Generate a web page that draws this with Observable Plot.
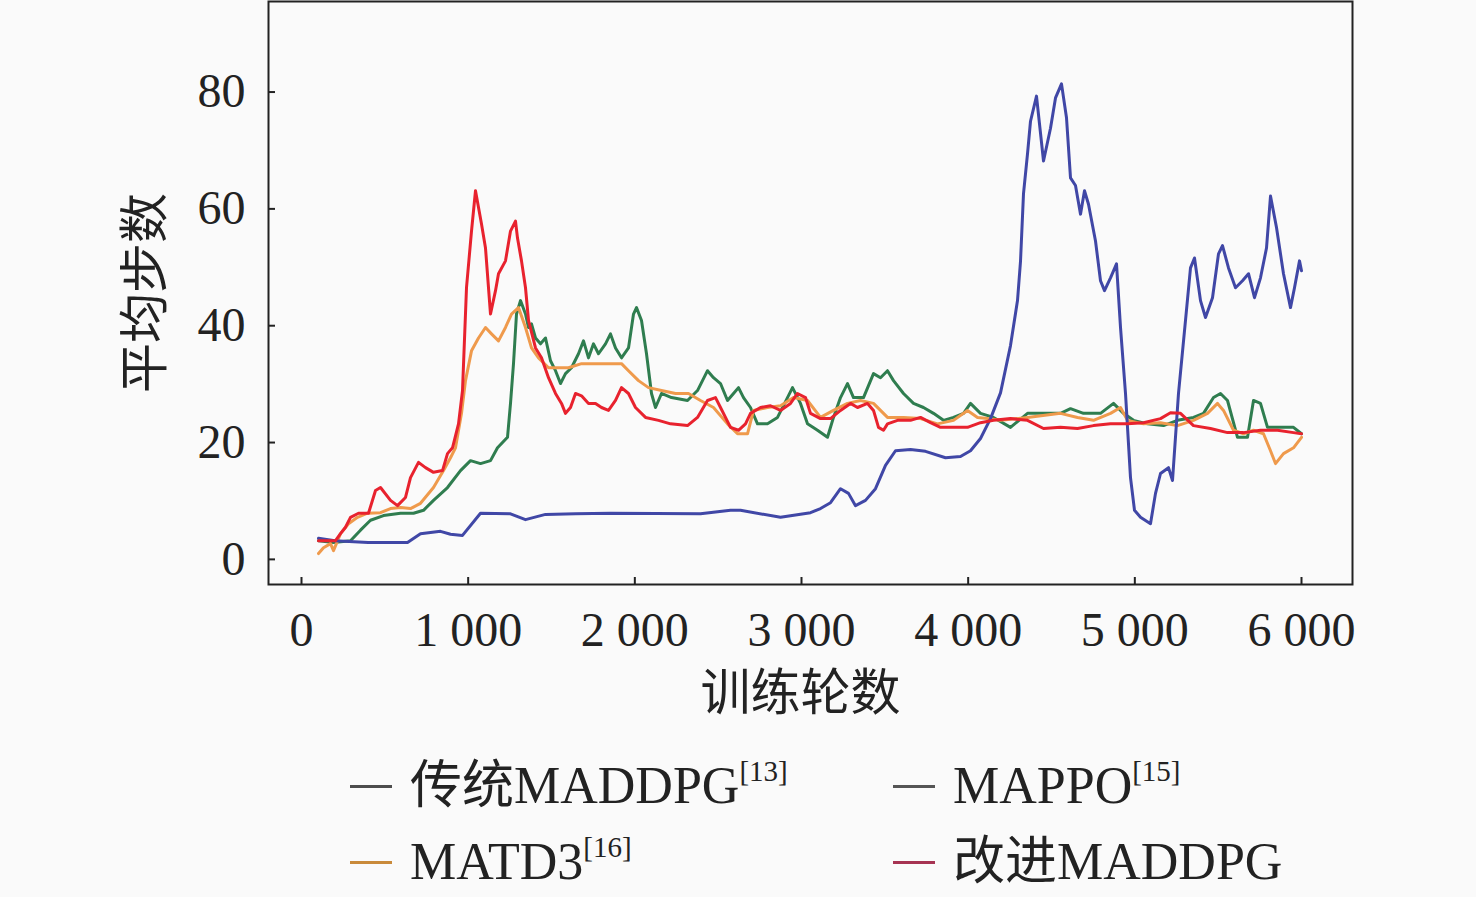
<!DOCTYPE html>
<html><head><meta charset="utf-8">
<script src="https://cdn.jsdelivr.net/npm/d3@7"></script>
<script src="https://cdn.jsdelivr.net/npm/@observablehq/plot@0.6"></script>
<style>
body{margin:0;background:#fafafa;font-family:"Liberation Serif","Noto Sans CJK SC",serif;}
#wrap{position:relative;width:1476px;height:897px;overflow:hidden;}
.item{position:absolute;display:flex;align-items:center;font-size:52px;line-height:60px;color:#222;white-space:nowrap;}
.sw{width:42px;height:3px;margin-right:18px;}
.item sup{font-size:29px;line-height:0;position:relative;top:-4px;vertical-align:super;}
</style>
</head><body>
<div id="wrap"><div id="chart"></div></div>
<script>
// ---- data ----
const xTicks = [0, 1000, 2000, 3000, 4000, 5000, 6000];
const xTickLabels = ["0", "1 000", "2 000", "3 000", "4 000", "5 000", "6 000"];
const yTicks = [0, 20, 40, 60, 80];
const xLabel = "训练轮数";
const yLabel = "平均步数";
const seriesNames = ["传统MADDPG", "MAPPO", "MATD3", "改进MADDPG"];
const seriesRefs = ["[13]", "[15]", "[16]", ""];

const mappoX = [102,200,400,636,714,834,894,966,1074,1254,1344,1464,1644,1854,2394,2574,2634,2874,3054,3114,3174,3234,3282,3324,3384,3444,3504,3564,3654,3744,3864,3954,4014,4074,4134,4194,4254,4296,4314,4332,4356,4374,4410,4452,4494,4524,4560,4590,4614,4644,4674,4698,4722,4764,4794,4818,4854,4890,4914,4944,4974,4998,5034,5094,5124,5154,5202,5226,5262,5304,5334,5358,5394,5424,5466,5502,5526,5562,5604,5646,5682,5718,5754,5790,5814,5850,5892,5934,5958,5988,6000];
const mappoY = [3.6,3.2,2.9,2.9,4.4,4.8,4.3,4.1,7.9,7.8,6.8,7.7,7.8,7.9,7.8,8.4,8.4,7.2,8.0,8.7,9.7,12.1,11.3,9.2,10.1,12.1,16.1,18.6,18.8,18.5,17.4,17.6,18.6,20.7,24.1,28.5,36.6,44.3,51,62.6,69.4,75,79.3,68.2,73.8,79,81.4,75.6,65.3,64,59.1,63.1,60.8,54.5,47.7,46,48.2,50.6,39.7,28.4,14,8.4,7.2,6.1,11.3,14.7,15.7,13.5,28.4,40.9,49.9,51.6,44.3,41.4,44.8,52.3,53.7,49.9,46.5,47.7,48.9,44.8,48.2,53.3,62.2,56.8,48.9,43.1,46.5,51.1,49.4];

const improvedX = [102,204,234,264,294,342,402,444,474,534,576,624,654,702,744,792,846,876,906,942,966,990,1020,1044,1080,1104,1134,1164,1182,1224,1254,1284,1296,1320,1344,1362,1404,1440,1482,1524,1560,1584,1614,1644,1680,1722,1764,1800,1842,1884,1920,1962,2004,2064,2142,2214,2316,2376,2436,2484,2514,2574,2622,2664,2694,2754,2814,2874,2934,2976,3024,3054,3114,3174,3234,3294,3336,3396,3432,3462,3492,3516,3576,3654,3714,3774,3834,3912,3996,4074,4152,4254,4356,4452,4554,4656,4752,4854,4956,5052,5154,5214,5274,5352,5454,5556,5652,5754,5856,5952,6000];
const improvedY = [3.2,3.2,4.4,5.5,7.2,7.9,7.9,11.8,12.3,10.1,9.2,10.6,14,16.6,15.7,14.9,15.2,18.1,19.1,23.2,28.9,46.5,56.2,63.1,57.4,53.3,42,46,48.9,51.1,56.2,57.9,55,51.1,46.5,40.9,36.2,34.5,31.1,28.4,26.7,25,26,28.4,28,26.7,26.7,26,25.5,27.2,29.4,28.4,26,24.3,23.8,23.2,22.9,24.3,27.2,27.7,26,22.6,22.1,23.2,25,26,26.3,25.5,26.7,28.4,27.7,25,24.1,24.1,25.5,26.7,26,26.7,25.5,22.6,22.1,23.2,23.8,23.8,24.3,23.4,22.6,22.6,22.6,23.4,23.8,24.1,23.8,22.4,22.6,22.4,22.9,23.2,23.2,23.4,24.1,25.1,25,22.9,22.4,21.7,21.7,22.1,22.1,21.7,21.5];

const maddpgX = [102,192,294,354,414,492,594,672,732,792,876,954,1014,1074,1134,1176,1236,1254,1272,1290,1314,1344,1362,1380,1404,1434,1464,1494,1524,1554,1584,1620,1662,1692,1722,1752,1782,1824,1854,1884,1920,1962,1992,2010,2040,2070,2100,2124,2160,2220,2316,2376,2436,2472,2514,2556,2592,2622,2652,2694,2736,2796,2856,2916,2946,2994,3036,3096,3156,3192,3234,3276,3312,3372,3432,3474,3516,3552,3612,3672,3732,3792,3852,3912,3972,4014,4074,4152,4254,4356,4452,4554,4614,4692,4794,4872,4932,4992,5076,5172,5256,5352,5412,5472,5514,5556,5616,5676,5712,5754,5796,5874,5952,6000];
const maddpgY = [3.2,2.9,3.2,5,6.7,7.5,7.9,7.9,8.4,10.1,12.3,15.2,16.9,16.4,16.9,19.1,20.9,26.7,33.5,42,44.3,42,39.7,40.3,37.9,36.9,37.9,34,32.3,30.1,31.8,32.8,35.2,37.4,34.5,36.9,35.2,36.9,38.6,36.2,34.5,36.2,42,43.1,40.9,35.2,28.4,26,28.4,27.7,27.2,28.9,32.3,31.1,30.1,27.2,28.4,29.4,27.7,26,23.2,23.2,24.3,27.7,29.4,26.7,23.2,22.1,20.9,24.3,27.7,30.1,27.7,27.7,31.8,31.1,32.3,30.6,28.4,26.7,26,25,23.8,24.3,25,26.7,25,24.3,22.6,25,25,25,25.8,25,25,26.7,25,23.8,23.2,22.9,23.8,24.3,25,27.7,28.4,27.2,20.9,20.9,27.2,26.7,22.6,22.6,22.6,21.5];

const matd3X = [102,132,174,192,234,282,336,396,474,534,594,654,714,792,852,894,924,960,984,1020,1062,1104,1140,1182,1224,1260,1302,1344,1380,1422,1482,1542,1602,1680,1764,1842,1920,1962,2022,2082,2160,2244,2322,2394,2472,2556,2616,2676,2712,2796,2874,2952,3036,3114,3192,3276,3354,3432,3516,3612,3714,3816,3912,3996,4056,4116,4194,4356,4554,4656,4752,4854,4914,4956,5052,5154,5256,5352,5436,5496,5532,5592,5652,5712,5772,5814,5844,5892,5952,6000];
const matd3Y = [1,2,2.7,1.5,4.4,6.1,7.2,7.9,8,8.7,8.9,8.7,9.6,12.3,15.2,17.4,19.1,25,30.6,35.7,37.9,39.7,38.6,37.4,39.7,42,43.1,39.7,36.2,34.5,32.8,32.8,32.8,33.5,33.5,33.5,33.5,32.3,30.6,29.4,28.9,28.4,28.4,27.2,26,23.2,21.5,21.5,25.5,26,26.3,27.7,27.2,24.3,25.5,26.7,27.2,26.7,24.3,24.3,24.1,23.2,23.8,25.5,24.3,24.1,23.8,24.3,25,24.3,23.8,25,26,23.8,23.2,23.4,22.9,23.8,25,26.7,25.5,22.1,21.5,22.1,21.5,18.6,16.4,18.1,19.1,20.9];

// ---- build ----
const toRows = (xs, ys) => xs.map((x, i) => ({x, y: ys[i]}));
const colors = ["#2f7d4f", "#4047a6", "#ef9a4c", "#e8222e"];
const swatchColors = ["#4d4d4d", "#555555", "#c98a3a", "#a63352"];
const FONT = '"Liberation Serif","Noto Sans CJK SC",serif';

const chart = Plot.plot({
  width: 1476, height: 730,
  marginLeft: 268, marginRight: 124, marginTop: 1, marginBottom: 146,
  style: {background: "transparent", fontFamily: FONT, fontSize: "48px", color: "#222"},
  x: {domain: [-198, 6306]},
  y: {domain: [-4.3, 95.5]},
  marks: [
    Plot.line(toRows(maddpgX, maddpgY), {x: "x", y: "y", stroke: colors[0], strokeWidth: 3}),
    Plot.line(toRows(matd3X, matd3Y), {x: "x", y: "y", stroke: colors[2], strokeWidth: 3}),
    Plot.line(toRows(mappoX, mappoY), {x: "x", y: "y", stroke: colors[1], strokeWidth: 3}),
    Plot.line(toRows(improvedX, improvedY), {x: "x", y: "y", stroke: colors[3], strokeWidth: 3}),
    Plot.frame({stroke: "#222", strokeWidth: 2}),
    Plot.axisX(xTicks, {tickSize: -7, tickPadding: 34, strokeWidth: 2, label: null, fontSize: 48,
      tickFormat: d => xTickLabels[xTicks.indexOf(d)]}),
    Plot.axisY(yTicks, {tickSize: -7, tickPadding: 30, strokeWidth: 2, label: null, fontSize: 48}),
    Plot.text([yLabel], {frameAnchor: "left", textAnchor: "middle", lineAnchor: "middle", dx: -123, rotate: -90, fontSize: 50, fontFamily: FONT}),
    Plot.text([xLabel], {frameAnchor: "bottom", textAnchor: "middle", lineAnchor: "middle", dy: 109, dx: -10, fontSize: 50, fontFamily: FONT})
  ]
});
const wrap = document.getElementById("wrap");
document.getElementById("chart").appendChild(chart);

// legend (HTML, below the SVG)
const pos = [[350, 756], [893, 756], [350, 832], [893, 832]];
[0, 1, 2, 3].forEach((k, j) => {
  const div = document.createElement("div");
  div.className = "item";
  div.style.left = pos[j][0] + "px";
  div.style.top = pos[j][1] + "px";
  const sw = document.createElement("span");
  sw.className = "sw";
  sw.style.background = swatchColors[k];
  div.appendChild(sw);
  const t = document.createElement("span");
  t.textContent = seriesNames[k];
  div.appendChild(t);
  if (seriesRefs[k]) {
    const s = document.createElement("sup");
    s.textContent = seriesRefs[k];
    t.appendChild(s);
  }
  wrap.appendChild(div);
});
</script>
</body></html>
